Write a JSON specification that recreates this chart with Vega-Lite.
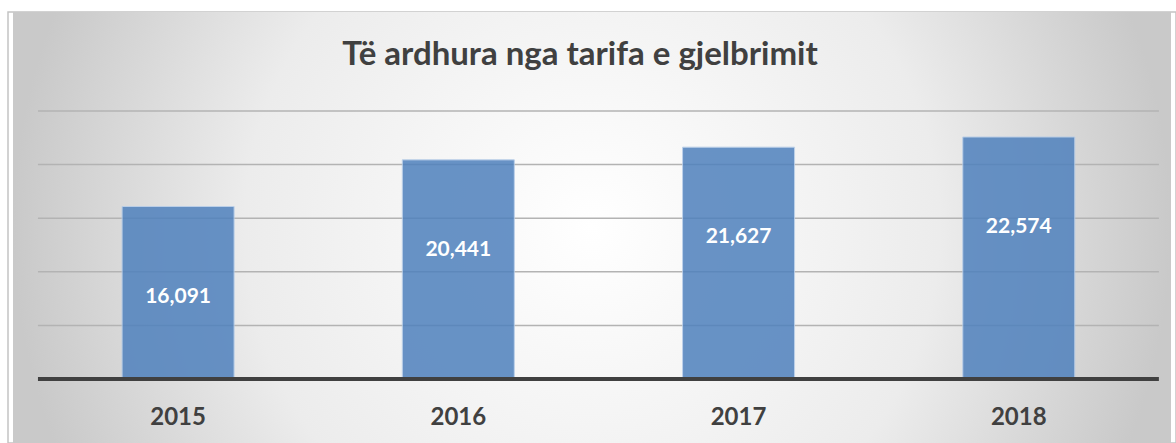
{
  "$schema": "https://vega.github.io/schema/vega-lite/v6.json",
  "width": 1168,
  "height": 431,
  "autosize": {"type": "none"},
  "padding": {"left": 8, "top": 12, "right": 0, "bottom": 0},
  "background": "white",
  "config": {
    "view": {"stroke": "#c4c4c4", "strokeWidth": 1.5}
  },
  "title": {
    "text": "Të ardhura nga tarifa e gjelbrimit",
    "font": "Lato",
    "fontSize": 33,
    "fontWeight": "bold",
    "color": "#404040",
    "anchor": "middle",
    "frame": "group",
    "baseline": "middle",
    "offset": -43,
    "dy": 33,
    "dx": -12
  },
  "datasets": {
    "bars": [
      {"year": 2015, "value": 16091},
      {"year": 2016, "value": 20441},
      {"year": 2017, "value": 21627},
      {"year": 2018, "value": 22574}
    ],
    "grid": [
      {"v": 5000},
      {"v": 10000},
      {"v": 15000},
      {"v": 20000},
      {"v": 25000}
    ]
  },
  "layer": [
    {
      "data": {"values": [{"a": 1}]},
      "mark": {
        "type": "rect",
        "color": {
          "gradient": "radial",
          "stops": [
            {"offset": 0, "color": "#ffffff"},
            {"offset": 0.6, "color": "#ececec"},
            {"offset": 1, "color": "#c9c9c9"}
          ]
        }
      },
      "encoding": {
        "x": {"datum": 2014.4109, "type": "quantitative", "axis": null},
        "x2": {"datum": 2018.5432},
        "y": {"datum": -5970, "type": "quantitative", "axis": null},
        "y2": {"datum": 34235}
      }
    },
    {
      "data": {"name": "grid"},
      "mark": {"type": "rule", "color": "#b3b3b3", "strokeWidth": 1.5},
      "encoding": {
        "x": {"datum": 2014.5, "type": "quantitative", "axis": null},
        "x2": {"datum": 2018.5},
        "y": {"field": "v", "type": "quantitative", "axis": null}
      }
    },
    {
      "data": {"name": "bars"},
      "mark": {
        "type": "bar",
        "width": 112,
        "color": "#4f81bd",
        "opacity": 0.85,
        "stroke": "#b4cbe8",
        "strokeWidth": 1
      },
      "encoding": {
        "x": {
          "field": "year",
          "type": "quantitative",
          "scale": {"domain": [2014.4109, 2018.5432], "nice": false, "zero": false},
          "axis": null
        },
        "y": {
          "field": "value",
          "type": "quantitative",
          "scale": {"domain": [-5970, 34235], "nice": false, "zero": false},
          "axis": null
        },
        "y2": {"datum": 0}
      }
    },
    {
      "data": {"name": "bars"},
      "mark": {
        "type": "text",
        "dy": 90,
        "font": "Lato",
        "fontSize": 21,
        "fontWeight": "bold",
        "color": "white",
        "align": "center",
        "baseline": "middle"
      },
      "encoding": {
        "x": {"field": "year", "type": "quantitative", "axis": null},
        "y": {"field": "value", "type": "quantitative", "axis": null},
        "text": {"field": "value", "type": "quantitative", "format": ","}
      }
    },
    {
      "data": {"name": "bars"},
      "mark": {
        "type": "text",
        "font": "Lato",
        "fontSize": 24,
        "fontWeight": "bold",
        "color": "#404040",
        "align": "center",
        "baseline": "middle"
      },
      "encoding": {
        "x": {"field": "year", "type": "quantitative", "axis": null},
        "y": {"datum": -3640, "type": "quantitative", "axis": null},
        "text": {"field": "year", "type": "quantitative", "format": "d"}
      }
    },
    {
      "data": {"values": [{"a": 1}]},
      "mark": {"type": "rule", "color": "#404040", "strokeWidth": 4},
      "encoding": {
        "x": {"datum": 2014.5, "type": "quantitative", "axis": null},
        "x2": {"datum": 2018.5},
        "y": {"datum": 0, "type": "quantitative", "axis": null}
      }
    }
  ]
}
